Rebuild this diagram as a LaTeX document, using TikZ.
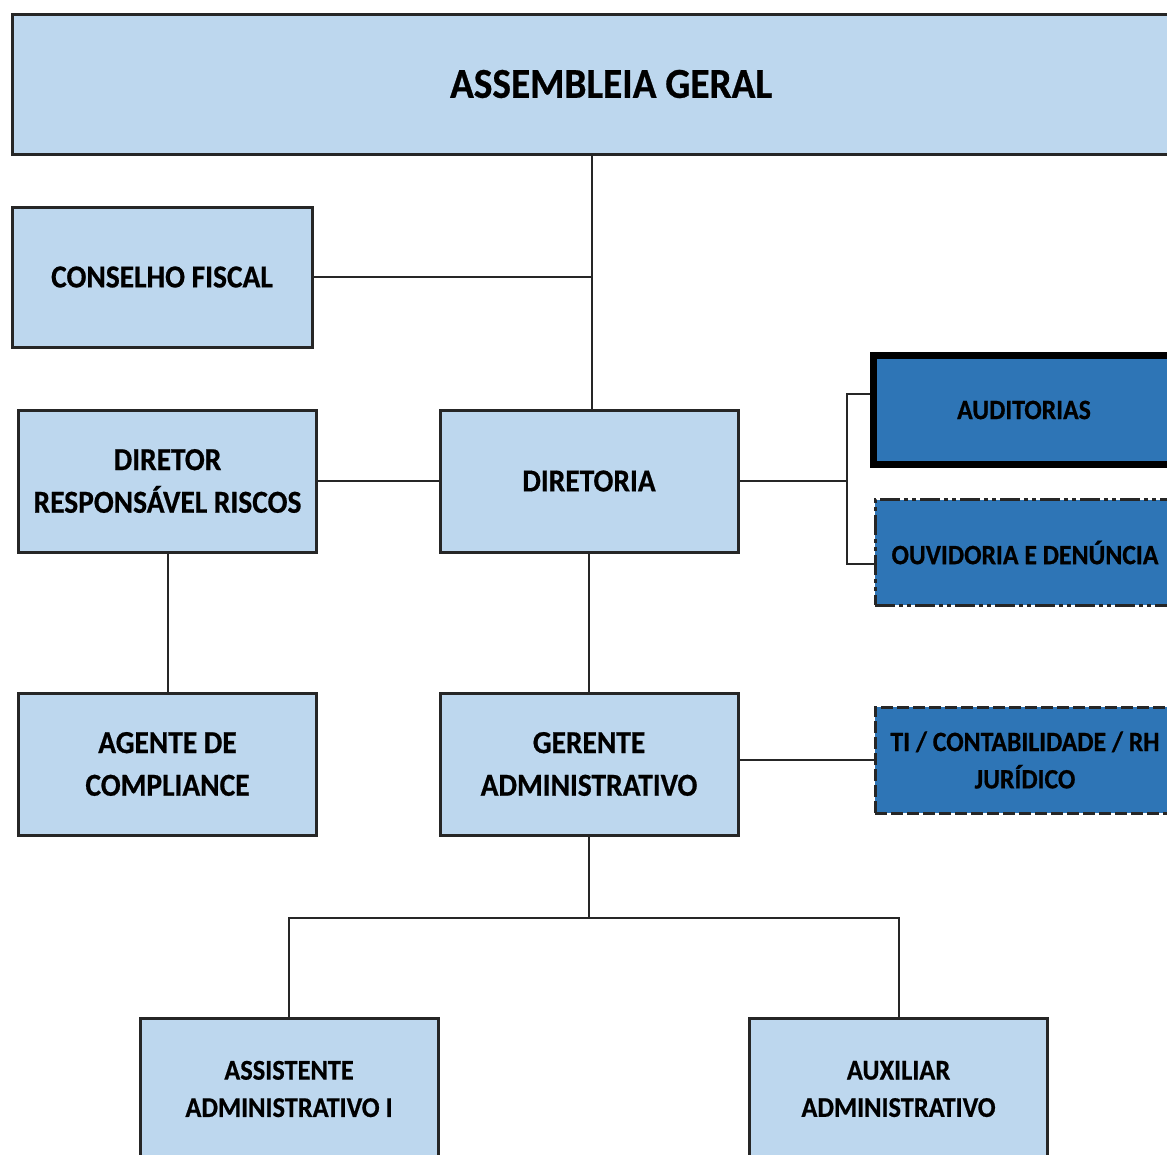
\documentclass[tikz,border=0pt]{standalone}
\usepackage{fontspec}
\setmainfont{Carlito}[FakeStretch=0.92, BoldFeatures={FakeBold=0.6}]
\definecolor{lightbox}{HTML}{BDD7EE}
\definecolor{darkbox}{HTML}{2E75B6}
\definecolor{edgegray}{HTML}{262626}

\tikzset{
  unit/.style={draw=edgegray, line width=2.25pt, fill=lightbox, align=center,
    inner sep=0pt, text=black, font=\bfseries\fontsize{24}{32}\selectfont},
  bigunit/.style={unit, font=\bfseries\fontsize{32}{36}\selectfont},
  lowunit/.style={unit, font=\bfseries\fontsize{21.5}{28}\selectfont},
  sideunit/.style={unit, fill=darkbox, font=\bfseries\fontsize{21}{28}\selectfont},
  link/.style={draw=edgegray, line width=1.5pt}
}

\begin{document}
\begin{tikzpicture}[x=0.75pt,y=0.75pt,yscale=-1,xscale=1]
\useasboundingbox (0,0) rectangle (1167,1154);
\clip (0,0) rectangle (1167,1154);

% top
\node [bigunit, minimum width=898.5pt, minimum height=105pt] (assembleia) at (611,84) {\raisebox{-2.5pt}{ASSEMBLEIA GERAL}};
\node [unit, minimum width=225pt, minimum height=105pt] (conselho) at (162,277) {CONSELHO FISCAL};

% middle row
\node [unit, minimum width=224pt, minimum height=106.5pt] (riscos) at (167.5,481) {DIRETOR\\RESPONSÁVEL RISCOS};
\node [unit, minimum width=223.5pt, minimum height=106.5pt] (diretoria) at (589,481) {DIRETORIA};
\node [sideunit, draw=black, line width=5.5pt, minimum width=226pt, minimum height=82pt] (auditorias) at (1024,410) {AUDITORIAS};
\node [sideunit, dash pattern=on 15pt off 3pt on 3pt off 3pt on 3pt off 3pt, minimum width=225pt, minimum height=79pt] (ouvidoria) at (1025,552.5) {OUVIDORIA E DENÚNCIA};

% second row
\node [unit, minimum width=224pt, minimum height=106.5pt] (compliance) at (167.5,764) {AGENTE DE\\COMPLIANCE};
\node [unit, minimum width=223.5pt, minimum height=106.5pt] (gerente) at (589,764) {GERENTE\\ADMINISTRATIVO};
\node [sideunit, dash pattern=on 9pt off 3pt, minimum width=225pt, minimum height=79.5pt] (ti) at (1025,760) {TI / CONTABILIDADE / RH\\JURÍDICO};

% bottom row
\node [lowunit, minimum width=223.5pt, minimum height=106.5pt] (assistente) at (289,1089) {ASSISTENTE\\ADMINISTRATIVO I};
\node [lowunit, minimum width=224pt, minimum height=106.5pt] (auxiliar) at (898.5,1089) {AUXILIAR\\ADMINISTRATIVO};

% connectors
\coordinate (spine) at (592,277);
\coordinate (split) at (847,481);
\coordinate (fork) at (589,918);
\draw [link] (assembleia.south -| spine) -- (diretoria.north -| spine);
\draw [link] (conselho.east) -- (spine);
\draw [link] (riscos.east) -- (diretoria.west);
\draw [link] (diretoria.east) -- (split);
\draw [link] (auditorias.west |- 0,394) -| (split) |- (ouvidoria.west |- 0,564);
\draw [link] (riscos.south) -- (compliance.north);
\draw [link] (diretoria.south) -- (gerente.north);
\draw [link] (gerente.east |- ti.west) -- (ti.west);
\draw [link] (gerente.south) -- (fork);
\draw [link] (assistente.north) |- (fork) -| (auxiliar.north);

\end{tikzpicture}
\end{document}
